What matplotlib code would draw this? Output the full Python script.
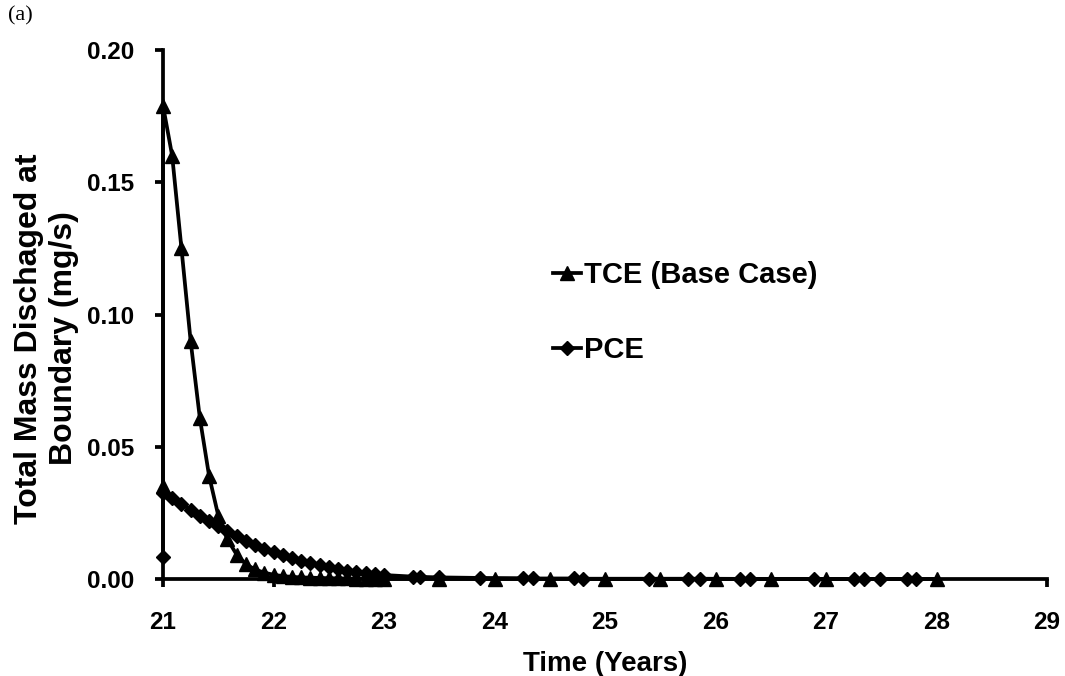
import matplotlib
matplotlib.use("Agg")
import matplotlib.pyplot as plt
from matplotlib.lines import Line2D

# ---------------- data ----------------
tce_time = [21.0, 21.0, 21.083, 21.167, 21.25, 21.333, 21.417, 21.5, 21.583, 21.667,
            21.75, 21.833, 21.917, 22.0, 22.083, 22.167, 22.25, 22.333, 22.417,
            22.5, 22.583, 22.667, 22.75, 22.833, 22.917, 23.0,
            23.5, 24.0, 24.5, 25.0, 25.5, 26.0, 26.5, 27.0, 28.0]
tce_mass = [0.035, 0.179, 0.160, 0.125, 0.090, 0.061, 0.039, 0.024, 0.0150, 0.0092,
            0.0056, 0.0036, 0.0024, 0.0016, 0.0011, 0.0008, 0.0006, 0.0005, 0.0004,
            0.0003, 0.00025, 0.0002, 0.00015, 0.0001, 0.00008, 0.00005,
            0.00003, 0.00002, 0.00001, 0.0, 0.0, 0.0, 0.0, 0.0, 0.0]

pce_time = [21.0, 21.0, 21.083, 21.167, 21.25, 21.333, 21.417, 21.5, 21.583, 21.667,
            21.75, 21.833, 21.917, 22.0, 22.083, 22.167, 22.25, 22.333, 22.417,
            22.5, 22.583, 22.667, 22.75, 22.833, 22.917, 23.0,
            23.26, 23.33, 23.5, 23.87, 24.26, 24.35, 24.72, 24.80, 25.40, 25.75,
            25.86, 26.22, 26.31, 26.89, 27.25, 27.34, 27.49, 27.73, 27.81]
pce_mass = [0.0083, 0.0325, 0.0305, 0.0283, 0.0262, 0.0240, 0.0220, 0.0200, 0.0180, 0.0162,
            0.0145, 0.0129, 0.0115, 0.0102, 0.0090, 0.0079, 0.0069, 0.0060, 0.0052,
            0.0045, 0.0038, 0.0032, 0.0027, 0.0022, 0.0018, 0.0015,
            0.0009, 0.0008, 0.0006, 0.0004, 0.0003, 0.0002, 0.0002, 0.0001, 0.0001, 0.0001,
            0.0001, 0.00005, 0.00005, 0.00005, 0.00003, 0.00003, 0.00002, 0.00002, 0.00002]

x_ticks = [21, 22, 23, 24, 25, 26, 27, 28, 29]
y_ticks = [0.00, 0.05, 0.10, 0.15, 0.20]
labels = ["TCE (Base Case)", "PCE"]

# ---------------- figure ----------------
W, H = 1065, 676
fig = plt.figure(figsize=(W / 100, H / 100), dpi=100)
ax = fig.add_axes([163 / W, 1 - 579 / H, (1047 - 163) / W, (579 - 50) / H])

bold = dict(family=["Liberation Sans", "DejaVu Sans"], weight="bold")
LW = 2.7

ax.plot(tce_time, tce_mass, color="black", lw=LW, marker="^", ms=10, clip_on=False, zorder=3)
ax.plot(pce_time, pce_mass, color="black", lw=LW, marker="D", ms=7.5, clip_on=False, zorder=3)

ax.set_xlim(21, 29)
ax.set_ylim(0, 0.20)
ax.set_xticks(x_ticks)
ax.set_yticks(y_ticks)
ax.set_xticklabels([str(v) for v in x_ticks], fontsize=17.5, **bold)
ax.set_yticklabels([f"{v:.2f}" for v in y_ticks], fontsize=17.5, **bold)

for s in ["top", "right"]:
    ax.spines[s].set_visible(False)
for s in ["left", "bottom"]:
    ax.spines[s].set_linewidth(LW)
ax.tick_params(direction="out", length=6, width=LW, color="black")
ax.tick_params(axis="y", pad=15)
ax.tick_params(axis="x", pad=17)

ax.set_xlabel("Time (Years)", fontsize=20, labelpad=12, **bold)
ax.set_ylabel("Total Mass Dischaged at\nBoundary (mg/s)", fontsize=23, linespacing=1.2, **bold)
ax.yaxis.set_label_coords(-0.095, 0.455)

handles = [Line2D([], [], color="black", lw=LW, marker="^", ms=10),
           Line2D([], [], color="black", lw=LW, marker="D", ms=7.5)]
fig.legend(handles, labels, loc="upper left", bbox_to_anchor=(553 / W, 1 - 261 / H),
           bbox_transform=fig.transFigure, frameon=False, borderpad=0, borderaxespad=0,
           handlelength=0.95, handletextpad=0.12, labelspacing=1.62,
           prop=dict(family="Liberation Sans", weight="bold", size=21))

fig.text(8 / W, 1 - 6 / H, "(a)", fontsize=16, family=["Liberation Serif", "DejaVu Serif"],
         va="top", ha="left")

fig.savefig("out.png", dpi=100, facecolor="white")
